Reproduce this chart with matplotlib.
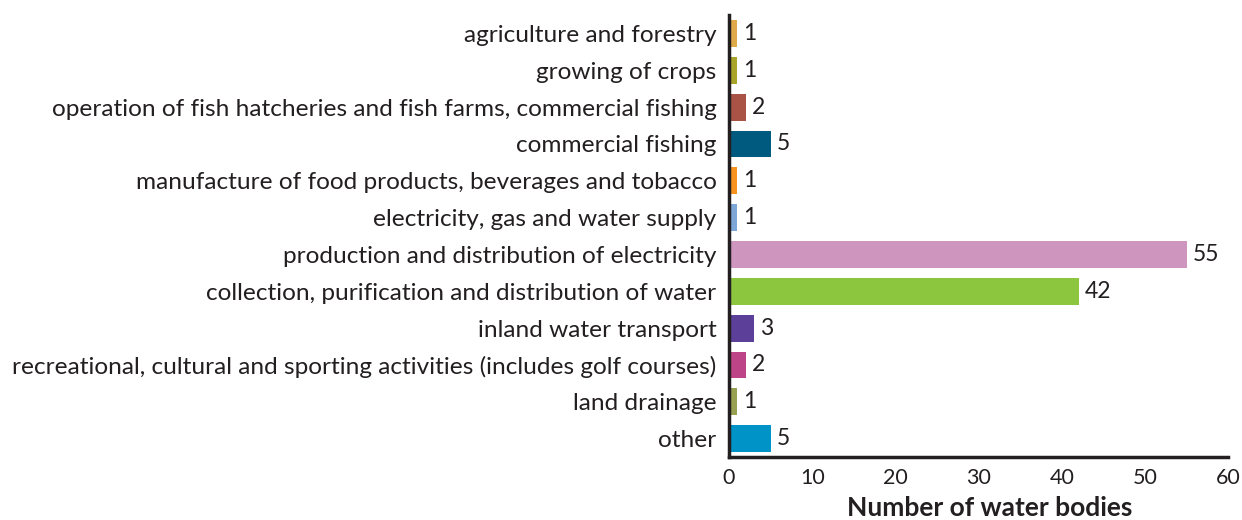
import matplotlib
matplotlib.use("Agg")
import matplotlib.pyplot as plt

CATEGORIES = [
    "agriculture and forestry",
    "growing of crops",
    "operation of fish hatcheries and fish farms, commercial fishing",
    "commercial fishing",
    "manufacture of food products, beverages and tobacco",
    "electricity, gas and water supply",
    "production and distribution of electricity",
    "collection, purification and distribution of water",
    "inland water transport",
    "recreational, cultural and sporting activities (includes golf courses)",
    "land drainage",
    "other",
]
COUNTS = [1, 1, 2, 5, 1, 1, 55, 42, 3, 2, 1, 5]
COLOURS = [
    "#E0AA4B", "#A9A42A", "#A85345", "#005A7F", "#F7941E", "#7DA7D9",
    "#CE95BF", "#8CC63F", "#5B3F98", "#BD4587", "#98A052", "#0093C7",
]
X_TICKS = [0, 10, 20, 30, 40, 50, 60]
TEXT_COLOUR = "#231F20"

plt.rcParams["font.family"] = ["Lato", "DejaVu Sans"]


def main():
    fig = plt.figure(figsize=(12.42, 5.2), dpi=100)
    ax = fig.add_axes([0.587, 0.121, 0.402, 0.85])

    ypos = list(range(len(CATEGORIES)))
    ax.barh(ypos, COUNTS, height=0.73, color=COLOURS)
    for y, v in zip(ypos, COUNTS):
        ax.text(v + 0.7, y, str(v), va="center", ha="left",
                fontsize=16.5, color=TEXT_COLOUR)

    ax.set_ylim(len(CATEGORIES) - 0.5, -0.5)
    ax.set_xlim(0, 60)
    ax.set_yticks(ypos)
    ax.set_yticklabels(CATEGORIES, fontsize=17.6, color=TEXT_COLOUR)
    ax.set_xticks(X_TICKS)
    ax.set_xticklabels([str(t) for t in X_TICKS], fontsize=15.5, color=TEXT_COLOUR)
    ax.tick_params(axis="y", length=0, pad=9)
    ax.tick_params(axis="x", length=0, pad=8)
    ax.set_xlabel("Number of water bodies", fontsize=19, fontweight="bold",
                  color=TEXT_COLOUR)
    ax.xaxis.set_label_coords(0.522, -0.088)

    for side in ("top", "right"):
        ax.spines[side].set_visible(False)
    for side in ("left", "bottom"):
        ax.spines[side].set_linewidth(2.5)
        ax.spines[side].set_color(TEXT_COLOUR)

    fig.savefig("out.png", dpi=100)


if __name__ == "__main__":
    main()
